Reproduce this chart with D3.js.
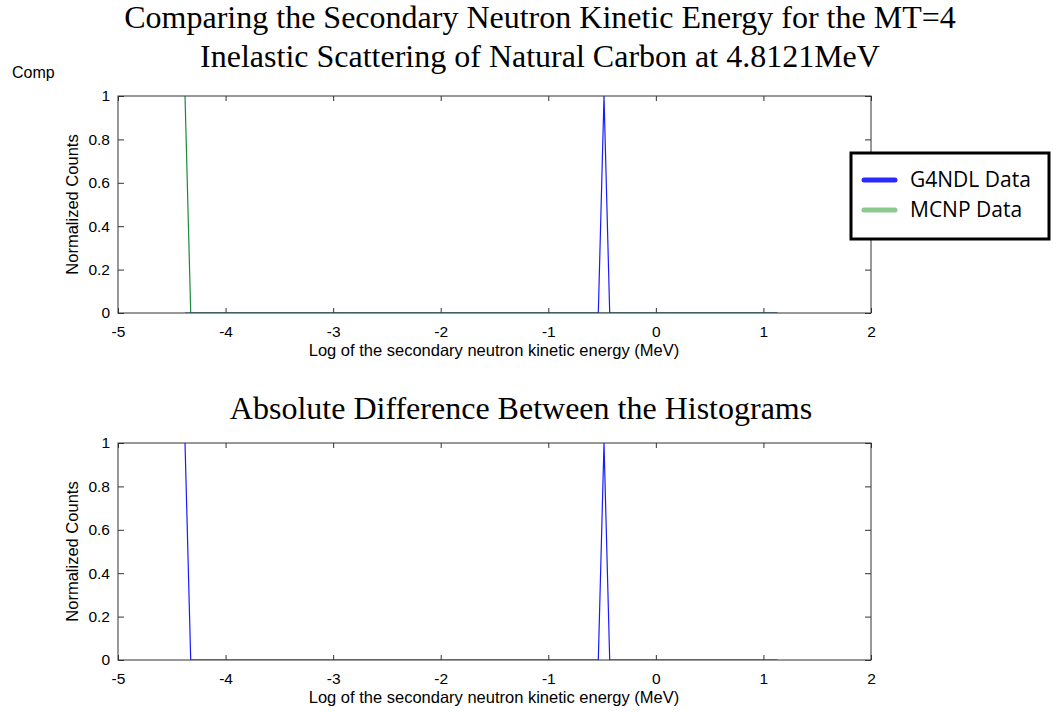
<!DOCTYPE html>
<html>
<head>
<meta charset="utf-8">
<script src="https://cdn.jsdelivr.net/npm/d3@7"></script>
<style>
  body { margin: 0; background: #fff; }
  svg { display: block; }
</style>
</head>
<body>
<svg id="chart" width="1053" height="712"></svg>
<script>
// dados
var xTicks = [-5, -4, -3, -2, -1, 0, 1, 2];
var yTicks = [0, 0.2, 0.4, 0.6, 0.8, 1];

var g4ndl_x = [-4.377, -0.535, -0.482, -0.429, 1.13];
var g4ndl_y = [0, 0, 1, 0, 0];
var mcnp_x = [-4.377, -4.324, 1.13];
var mcnp_y = [1, 0, 0];
var diff_x = [-4.377, -4.324, -0.535, -0.482, -0.429, 1.13];
var diff_y = [1, 0, 0, 1, 0, 0];

var svg = d3.select("#chart");
var serif = "'Liberation Serif', 'Times New Roman', serif";
var sans = "'Liberation Sans', Arial, sans-serif";

//TITULOS
svg.append("text").attr("x", 540).attr("y", 28)
    .attr("text-anchor", "middle")
    .style("font-family", serif).style("font-size", "32px")
    .text("Comparing the Secondary Neutron Kinetic Energy for the MT=4");
svg.append("text").attr("x", 540).attr("y", 67)
    .attr("text-anchor", "middle")
    .style("font-family", serif).style("font-size", "32px")
    .text("Inelastic Scattering of Natural Carbon at 4.8121MeV");
svg.append("text").attr("x", 521).attr("y", 419)
    .attr("text-anchor", "middle")
    .style("font-family", serif).style("font-size", "32px")
    .text("Absolute Difference Between the Histograms");
svg.append("text").attr("x", 12).attr("y", 78)
    .style("font-family", sans).style("font-size", "16px")
    .text("Comp");

//FUNCAO PARA CADA PAINEL
function painel(top, bottom, series) {
    let left = 118, right = 871;
    let x = d3.scaleLinear().domain([-5, 2]).range([left, right]);
    let y = d3.scaleLinear().domain([0, 1]).range([bottom, top]);
    let g = svg.append("g");

    let clipId = "clip" + top;
    g.append("clipPath").attr("id", clipId)
        .append("rect").attr("x", left).attr("y", top)
        .attr("width", right - left).attr("height", bottom - top);

    // eixos com ticks para dentro
    let fontAxis = function (sel) {
        sel.selectAll("text")
            .style("font-family", sans)
            .style("font-size", "15.5px")
            .attr("fill", "#000");
        sel.selectAll("line").attr("stroke", "#333");
        sel.select(".domain").remove();
    };
    g.append("g").attr("transform", "translate(0," + bottom + ")")
        .call(d3.axisBottom(x).tickValues(xTicks).tickFormat(d => String(d))
            .tickSizeInner(-5).tickSizeOuter(0).tickPadding(13))
        .call(fontAxis);
    g.append("g").attr("transform", "translate(0," + top + ")")
        .call(d3.axisTop(x).tickValues(xTicks).tickFormat("")
            .tickSizeInner(-5).tickSizeOuter(0))
        .call(fontAxis);
    g.append("g").attr("transform", "translate(" + left + ",0)")
        .call(d3.axisLeft(y).tickValues(yTicks).tickFormat(d => String(d))
            .tickSizeInner(-6).tickSizeOuter(0).tickPadding(8))
        .call(fontAxis);
    g.append("g").attr("transform", "translate(" + right + ",0)")
        .call(d3.axisRight(y).tickValues(yTicks).tickFormat("")
            .tickSizeInner(-6).tickSizeOuter(0))
        .call(fontAxis);

    // linhas de dados
    let line = d3.line().x(d => x(d[0])).y(d => y(d[1]));
    series.forEach(function (s) {
        let pts = s.xs.map((v, i) => [v, s.ys[i]]);
        g.append("path").datum(pts)
            .attr("d", line)
            .attr("fill", "none")
            .attr("stroke", s.color)
            .attr("stroke-width", 1.2)
            .attr("clip-path", "url(#" + clipId + ")");
    });

    // caixa
    g.append("rect").attr("x", left).attr("y", top)
        .attr("width", right - left).attr("height", bottom - top)
        .attr("fill", "none").attr("stroke", "#333").attr("stroke-width", 1);

    // labels dos eixos
    g.append("text").attr("x", 494).attr("y", bottom + 43)
        .attr("text-anchor", "middle")
        .style("font-family", sans).style("font-size", "16.5px")
        .text("Log of the secondary neutron kinetic energy (MeV)");
    g.append("text")
        .attr("transform", "translate(78," + ((top + bottom) / 2) + ") rotate(-90)")
        .attr("text-anchor", "middle")
        .style("font-family", sans).style("font-size", "16.5px")
        .text("Normalized Counts");
}

painel(96, 313, [
    { xs: g4ndl_x, ys: g4ndl_y, color: "#1a1aff" },
    { xs: mcnp_x, ys: mcnp_y, color: "#1a8a3a" }
]);
painel(443, 660, [
    { xs: diff_x, ys: diff_y, color: "#1a1aff" }
]);

//LEGENDA
let legenda = svg.append("g");
legenda.append("rect").attr("x", 851).attr("y", 153)
    .attr("width", 198).attr("height", 86)
    .attr("fill", "#fff").attr("stroke", "#000").attr("stroke-width", 3);
let itens = [
    { nome: "G4NDL Data", cor: "#2a2aff", y: 180 },
    { nome: "MCNP Data", cor: "#8cc98c", y: 210 }
];
itens.forEach(function (it) {
    legenda.append("line").attr("x1", 864).attr("x2", 895)
        .attr("y1", it.y).attr("y2", it.y)
        .attr("stroke", it.cor).attr("stroke-width", 5)
        .attr("stroke-linecap", "round");
    legenda.append("text").attr("x", 910).attr("y", it.y + 7)
        .style("font-family", "'Open Sans', 'Noto Sans', sans-serif")
        .style("font-size", "21px")
        .text(it.nome);
});
</script>
</body>
</html>
